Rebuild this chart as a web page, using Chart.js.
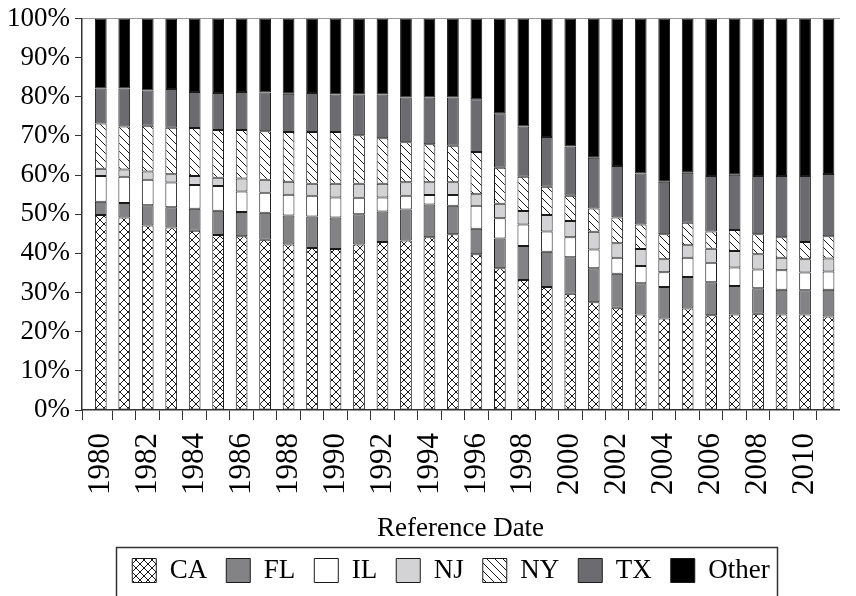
<!DOCTYPE html>
<html>
<head>
<meta charset="utf-8">
<script src="https://cdn.jsdelivr.net/npm/chart.js@4.4.1/dist/chart.umd.min.js"></script>
<style>
  html, body { margin: 0; padding: 0; background: #fff; overflow: hidden; }
</style>
</head>
<body>
<canvas id="c" width="856" height="596"></canvas>
<script>
// ── Data (share of total, %) ─────────────────────────────────
const years = [1980,1981,1982,1983,1984,1985,1986,1987,1988,1989,1990,1991,1992,1993,1994,1995,
               1996,1997,1998,1999,2000,2001,2002,2003,2004,2005,2006,2007,2008,2009,2010,2011];
const CA    = [49.8,49.2,47.1,46.6,45.8,44.7,44.4,43.5,42.3,41.4,41.1,42.3,42.9,43.3,44.1,44.9,
               39.8,36.2,33.2,31.4,29.7,27.5,26.1,24.4,23.4,25.9,24.2,24.4,24.6,24.4,24.4,23.9];
const FL    = [3.4,3.7,5.2,5.2,5.6,6.2,6.2,6.9,7.4,8.0,8.1,7.7,7.8,7.9,8.4,7.3,
               6.5,7.6,8.7,9.0,9.3,8.7,8.7,8.0,8.0,8.1,8.4,7.3,6.5,6.3,6.2,6.8];
const IL    = [6.6,6.7,6.5,6.3,6.1,6.3,5.2,5.1,5.3,5.3,5.1,4.2,3.6,3.5,2.4,2.7,
               5.9,5.2,5.5,5.2,5.1,4.8,4.1,4.4,3.8,4.9,5.0,4.7,4.8,5.0,4.5,4.7];
const NJ    = [1.8,1.8,2.1,2.1,2.3,2.1,3.3,3.3,3.3,3.1,3.5,3.6,3.5,3.5,3.3,3.3,
               2.9,3.7,3.4,4.2,4.2,4.5,3.7,4.3,3.3,3.2,3.6,4.2,3.9,3.2,3.4,3.3];
const NY    = [11.6,11.0,11.7,11.9,12.2,12.2,12.4,12.4,12.7,13.2,13.2,12.4,11.6,10.2,9.7,9.3,
               10.8,9.2,8.8,7.2,6.4,6.0,6.6,6.3,6.4,5.7,4.4,5.4,5.1,5.2,4.4,5.7];
const TX    = [8.9,9.7,9.0,9.9,9.2,9.5,9.7,9.9,9.8,10.0,9.6,10.4,11.2,11.4,11.9,12.3,
               13.5,13.9,12.8,12.7,12.6,12.9,13.1,13.0,13.4,12.8,14.2,14.1,14.9,15.7,16.9,15.9];
const OTHER = [17.9,17.9,18.4,18.0,18.8,19.0,18.8,18.9,19.2,19.0,19.4,19.4,19.4,20.2,20.2,20.2,
               20.6,24.2,27.6,30.3,32.7,35.6,37.7,39.6,41.7,39.4,40.2,39.9,40.2,40.2,40.2,39.7];

const seriesNames = ['CA','FL','IL','NJ','NY','TX','Other'];
const yTicks      = [0,10,20,30,40,50,60,70,80,90,100];
const yearLabels  = [1980,1982,1984,1986,1988,1990,1992,1994,1996,1998,2000,2002,2004,2006,2008,2010];

// ── Fill patterns ────────────────────────────────────────────
function hatch(kind) {
  const s = 8;
  const c = document.createElement('canvas');
  c.width = s; c.height = s;
  const g = c.getContext('2d');
  g.fillStyle = '#fff';
  g.fillRect(0, 0, s, s);
  g.strokeStyle = '#1a1a1a';
  g.lineWidth = 1;
  g.beginPath();
  g.moveTo(-1, -1); g.lineTo(s + 1, s + 1);
  if (kind === 'cross') { g.moveTo(s + 1, -1); g.lineTo(-1, s + 1); }
  g.stroke();
  return g.createPattern(c, 'repeat');
}

const FONT = 'Liberation Serif';
const xMin = 1979.2, xMax = 2011.45;
const boundaryTicks = [xMin].concat(years.slice(0, -1).map(y => y + 0.5));

const fills  = [hatch('cross'), '#838386', '#ffffff', '#d3d3d5', hatch('diag'), '#6c6c70', '#000000'];
const values = [CA, FL, IL, NJ, NY, TX, OTHER];

const datasets = seriesNames.map((name, i) => ({
  label: name,
  data: years.map((yr, j) => ({ x: yr, y: values[i][j] })),
  backgroundColor: fills[i],
  borderColor: '#1a1a1a',
  borderWidth: 1,
  borderSkipped: false,
  categoryPercentage: 1,
  barPercentage: 0.5,
  xAxisID: 'x',
}));

// legend sits a bit right of centre, inside a frame open at the bottom
const LEGEND_SHIFT = 23;
const legendFrame = {
  id: 'legendFrame',
  afterLayout(chart) {
    const lg = chart.legend;
    if (!lg) return;
    lg.left += LEGEND_SHIFT;
    lg.right += LEGEND_SHIFT;
  },
  afterDraw(chart) {
    const lg = chart.legend;
    const hb = lg && lg.legendHitBoxes;
    if (!hb || !hb.length) return;
    const ctx = chart.ctx;
    const l = Math.min(...hb.map(b => b.left)) - 16;
    const r = Math.max(...hb.map(b => b.left + b.width)) + 8;
    const t = lg.top + 9;
    ctx.save();
    ctx.strokeStyle = '#333';
    ctx.lineWidth = 1.5;
    ctx.strokeRect(Math.round(l) + 0.5, t + 0.5, Math.round(r - l), chart.height + 20 - t);
    ctx.restore();
  }
};

new Chart(document.getElementById('c').getContext('2d'), {
  type: 'bar',
  data: { datasets },
  options: {
    responsive: false,
    devicePixelRatio: 1,
    animation: false,
    layout: { padding: { top: 14, right: 0, bottom: 2, left: 0 } },
    plugins: {
      tooltip: { enabled: false },
      legend: {
        position: 'bottom',
        labels: { boxWidth: 24, boxHeight: 24, padding: 19, color: '#000', font: { family: FONT, size: 27 } }
      }
    },
    scales: {
      x: {
        type: 'linear', stacked: true, offset: false, min: xMin, max: xMax, weight: 0,
        afterBuildTicks: s => { s.ticks = boundaryTicks.map(v => ({ value: v })); },
        ticks: { display: false },
        grid: { display: true, offset: false, drawOnChartArea: false, drawTicks: true, tickLength: 10, color: '#333', lineWidth: 1 },
        border: { display: true, color: '#333', width: 1.5 },
        afterFit: s => { s.height = 10; }
      },
      x2: {
        type: 'linear', position: 'bottom', offset: false, min: xMin, max: xMax, weight: 1,
        afterBuildTicks: s => { s.ticks = yearLabels.map(v => ({ value: v })); },
        ticks: { autoSkip: false, maxRotation: 90, minRotation: 90, padding: 13, color: '#000',
                 font: { family: FONT, size: 31 }, callback: v => String(v) },
        grid: { display: false, offset: false, drawTicks: false },
        border: { display: false },
        title: { display: true, text: 'Reference Date', color: '#000',
                 font: { family: FONT, size: 27, lineHeight: 0.6 }, padding: { top: 0, bottom: 1 } },
        afterFit: s => { s.height = 118; }
      },
      xTop: {
        type: 'linear', position: 'top', offset: false, min: xMin, max: xMax,
        ticks: { display: false },
        grid: { display: false, offset: false, drawTicks: false },
        border: { display: true, color: '#999', width: 1 }
      },
      y: {
        stacked: true, min: 0, max: 100,
        afterBuildTicks: s => { s.ticks = yTicks.map(v => ({ value: v })); },
        ticks: { color: '#000', padding: 5, font: { family: FONT, size: 27, lineHeight: 1 }, callback: v => v + '%' },
        grid: { display: true, drawOnChartArea: false, tickLength: 7, color: '#333' },
        border: { display: true, color: '#333', width: 1.5 },
        afterFit: s => { s.width = 82; }
      }
    }
  },
  plugins: [legendFrame]
});
</script>
</body>
</html>
